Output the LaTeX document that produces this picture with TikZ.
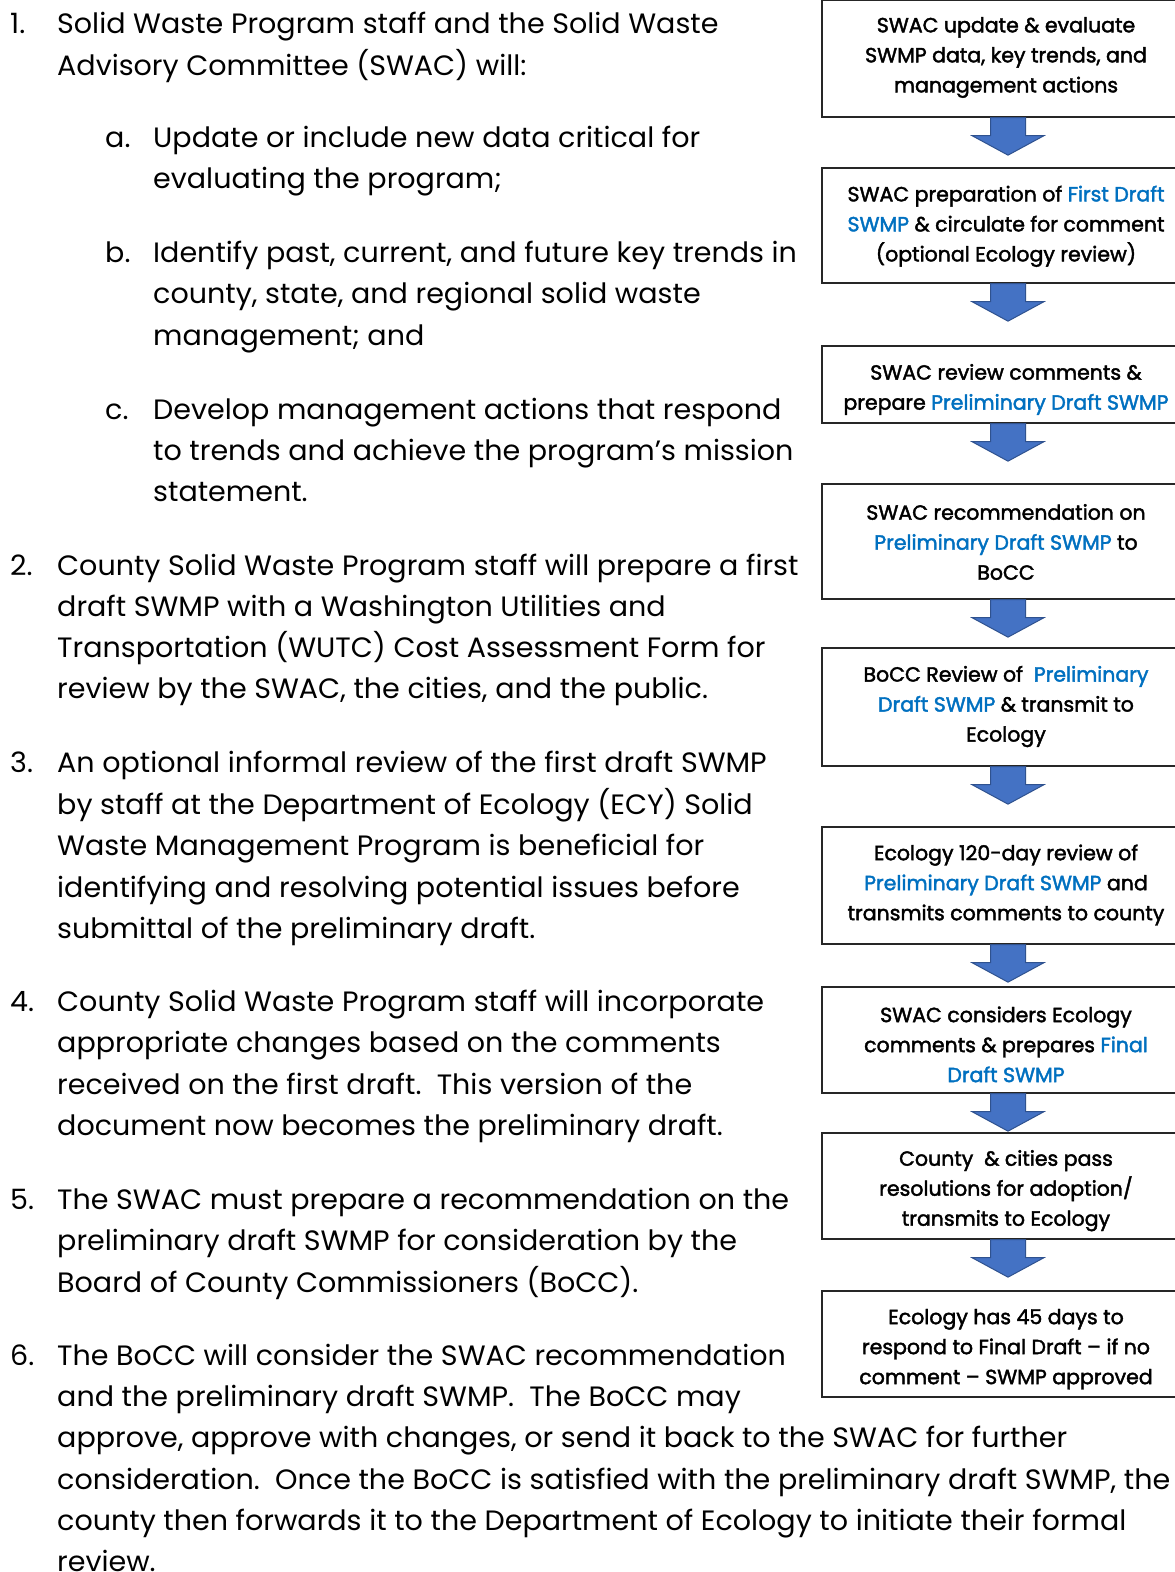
\documentclass[tikz,border=0pt]{standalone}
\usepackage{fontspec}
\usetikzlibrary{calc}
\newfontfamily\lfont{Poppins}[FakeStretch=1.02]
\newfontfamily\bfont{Poppins}[FakeBold=2]
\definecolor{linkblue}{HTML}{0070C0}
\definecolor{arrfill}{HTML}{4472C4}
\definecolor{arrline}{HTML}{2F528F}
\newcommand{\bl}[1]{\textcolor{linkblue}{#1}}
\begin{document}
\begin{tikzpicture}[x=1pt,y=-1pt,
  ltext/.style={anchor=base west,inner sep=0pt,font=\lfont\fontsize{28}{41}\selectfont},
  flowbox/.style={draw=black!85,line width=1.3pt,minimum width=368pt,inner sep=0pt},
  boxtext/.style={align=center,inner sep=0pt,font=\bfont\fontsize{20.5}{30}\selectfont},
  bigarrow/.style={fill=arrfill,draw=arrline,line width=1pt,line join=miter}]
\useasboundingbox (0,0) rectangle (1175,1572);
\clip (0,0) rectangle (1175,1572);
\fill[white] (0,0) rectangle (1175,1572);

% left text
\node[ltext] (n1) at (10,33) {1.};
\node[ltext] (l1a) at (57,33) {Solid Waste Program staff and the Solid Waste};
\node[ltext] (l1b) at (57,75) {Advisory Committee (SWAC) will:};
\node[ltext] (na) at (105,147) {a.};
\node[ltext] (la1) at (153,147) {Update or include new data critical for};
\node[ltext] (la2) at (153,188.5) {evaluating the program;};
\node[ltext] (nb) at (105,262.7) {b.};
\node[ltext] (lb1) at (153,262.7) {Identify past, current, and future key trends in};
\node[ltext] (lb2) at (153,303.8) {county, state, and regional solid waste};
\node[ltext] (lb3) at (153,345.9) {management; and};
\node[ltext] (nc) at (105,419) {c.};
\node[ltext] (lc1) at (153,419) {Develop management actions that respond};
\node[ltext] (lc2) at (153,460.2) {to trends and achieve the program’s mission};
\node[ltext] (lc3) at (153,501.3) {statement.};
\node[ltext] (n2) at (10,575.5) {2.};
\node[ltext] (l21) at (57,575.5) {County Solid Waste Program staff will prepare a first};
\node[ltext] (l22) at (57,616.6) {draft SWMP with a Washington Utilities and};
\node[ltext] (l23) at (57,657.7) {Transportation (WUTC) Cost Assessment Form for};
\node[ltext] (l24) at (57,698.8) {review by the SWAC, the cities, and the public.};
\node[ltext] (n3) at (10,772) {3.};
\node[ltext] (l31) at (57,772) {An optional informal review of the first draft SWMP};
\node[ltext] (l32) at (57,814) {by staff at the Department of Ecology (ECY) Solid};
\node[ltext] (l33) at (57,855.2) {Waste Management Program is beneficial for};
\node[ltext] (l34) at (57,897.3) {identifying and resolving potential issues before};
\node[ltext] (l35) at (57,938.4) {submittal of the preliminary draft.};
\node[ltext] (n4) at (10,1011.6) {4.};
\node[ltext] (l41) at (57,1011.6) {County Solid Waste Program staff will incorporate};
\node[ltext] (l42) at (57,1052.7) {appropriate changes based on the comments};
\node[ltext] (l43) at (57,1094.8) {received on the first draft.\ \ This version of the};
\node[ltext] (l44) at (57,1135.9) {document now becomes the preliminary draft.};
\node[ltext] (n5) at (10,1209.1) {5.};
\node[ltext] (l51) at (57,1209.1) {The SWAC must prepare a recommendation on the};
\node[ltext] (l52) at (57,1250.2) {preliminary draft SWMP for consideration by the};
\node[ltext] (l53) at (57,1292.3) {Board of County Commissioners (BoCC).};
\node[ltext] (n6) at (10,1365.5) {6.};
\node[ltext] (l61) at (57,1365.5) {The BoCC will consider the SWAC recommendation};
\node[ltext] (l62) at (57,1406.6) {and the preliminary draft SWMP.\ \ The BoCC may};
\node[ltext] (l63) at (57,1447.7) {approve, approve with changes, or send it back to the SWAC for further};
\node[ltext] (l64) at (57,1489.8) {consideration.\ \ Once the BoCC is satisfied with the preliminary draft SWMP, the};
\node[ltext] (l65) at (57,1530.9) {county then forwards it to the Department of Ecology to initiate their formal};
\node[ltext] (l66) at (57,1571) {review.};

% flow boxes
\node[flowbox,minimum height=117pt] (b1) at (1006,58.5) {};
\node[flowbox,minimum height=115pt] (b2) at (1006,225.5) {};
\node[flowbox,minimum height=77pt]  (b3) at (1006,384.5) {};
\node[flowbox,minimum height=115pt] (b4) at (1006,541.5) {};
\node[flowbox,minimum height=118pt] (b5) at (1006,707) {};
\node[flowbox,minimum height=117pt] (b6) at (1006,885.5) {};
\node[flowbox,minimum height=106pt] (b7) at (1006,1040) {};
\node[flowbox,minimum height=106pt] (b8) at (1006,1186) {};
\node[flowbox,minimum height=106pt] (b9) at (1006,1344) {};

\node[boxtext] (t1) at (1006,57.5) {SWAC update \& evaluate\\SWMP data, key trends, and\\management actions};
\node[boxtext] (t2) at (1006,226.3) {SWAC preparation of \bl{First Draft}\\\bl{SWMP} \& circulate for comment\\(optional Ecology review)};
\node[boxtext] (t3) at (1006,389.5) {SWAC review comments \&\\prepare \bl{Preliminary Draft SWMP}};
\node[boxtext] (t4) at (1006,542) {SWAC recommendation on\\\bl{Preliminary Draft SWMP} to\\BoCC};
\node[boxtext] (t5) at (1006,706.5) {BoCC Review of\ \ \bl{Preliminary}\\\bl{Draft SWMP} \& transmit to\\Ecology};
\node[boxtext] (t6) at (1006,885) {Ecology 120-day review of\\\bl{Preliminary Draft SWMP} and\\transmits comments to county};
\node[boxtext] (t7) at (1006,1044.4) {SWAC considers Ecology\\comments \& prepares \bl{Final}\\\bl{Draft SWMP}};
\node[boxtext] (t8) at (1006,1190.7) {County\ \ \& cities pass\\resolutions for adoption/\\transmits to Ecology};
\node[boxtext] (t9) at (1006,1349.2) {Ecology has 45 days to\\respond to Final Draft – if no\\comment – SWMP approved};

% block arrows between boxes
\foreach \a/\b in {b1/b2,b2/b3,b3/b4,b4/b5,b5/b6,b6/b7,b7/b8,b8/b9}{
  \draw[bigarrow] ($(\a.south)+(-15.5,0)$) -- ++(35,0) -- ++(0,18) -- ++(18.5,0)
     -- ++(-36,19.5) -- ++(-36,-19.5) -- ++(18.5,0) -- cycle;
}
\end{tikzpicture}
\end{document}
